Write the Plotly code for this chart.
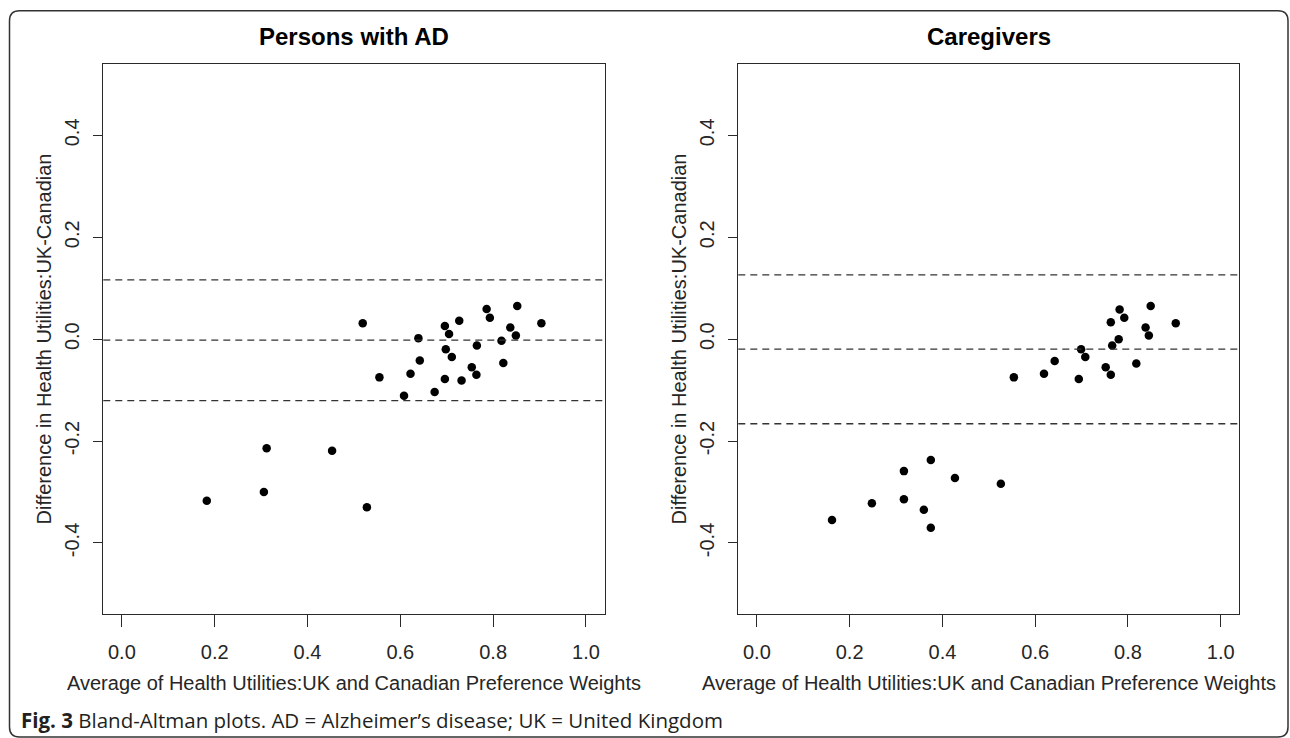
import plotly.graph_objects as go

W, H = 1290, 738

# ---- data ----
panel_titles = ["Persons with AD", "Caregivers"]
x_title = "Average of Health Utilities:UK and Canadian Preference Weights"
y_title = "Difference in Health Utilities:UK-Canadian"
caption_bold = "Fig. 3"
caption_text = " Bland-Altman plots. AD = Alzheimer\u2019s disease; UK = United Kingdom"

x_ticks = [0.0, 0.2, 0.4, 0.6, 0.8, 1.0]
x_tick_labels = ["0.0", "0.2", "0.4", "0.6", "0.8", "1.0"]
y_ticks = [-0.4, -0.2, 0.0, 0.2, 0.4]
y_tick_labels = ["-0.4", "-0.2", "0.0", "0.2", "0.4"]

ad_avg = [0.519, 0.555, 0.608, 0.622, 0.639, 0.642, 0.674, 0.696, 0.705, 0.698,
          0.711, 0.696, 0.727, 0.732, 0.754, 0.764, 0.765, 0.786, 0.793, 0.818,
          0.822, 0.837, 0.849, 0.852, 0.904, 0.312, 0.453, 0.306, 0.183, 0.528]
ad_diff = [0.031, -0.075, -0.111, -0.068, 0.002, -0.042, -0.1035, 0.026, 0.010, -0.020,
           -0.035, -0.078, 0.036, -0.081, -0.055, -0.070, -0.0125, 0.059, 0.042, -0.003,
           -0.047, 0.023, 0.007, 0.065, 0.031, -0.214, -0.219, -0.300, -0.317, -0.330]
ad_limits = [0.1165, -0.002, -0.1206]   # upper LoA, mean, lower LoA

cg_avg = [0.554, 0.619, 0.642, 0.694, 0.699, 0.708, 0.752, 0.763, 0.763, 0.766,
          0.780, 0.782, 0.792, 0.818, 0.838, 0.845, 0.849, 0.903, 0.162, 0.248,
          0.317, 0.317, 0.375, 0.360, 0.375, 0.427, 0.526]
cg_diff = [-0.075, -0.068, -0.043, -0.078, -0.020, -0.035, -0.055, -0.070, 0.033, -0.0125,
           0.000, 0.058, 0.042, -0.048, 0.023, 0.007, 0.065, 0.031, -0.355, -0.322,
           -0.259, -0.314, -0.237, -0.335, -0.370, -0.2725, -0.284]
cg_limits = [0.126, -0.0196, -0.166]

x_range = [-0.04, 1.04]
y_range = [-0.54, 0.54]

# ---- layout geometry (pixels) ----
box_left = [103.3, 738.3]
box_right = [604.5, 1239.3]
box_top, box_bottom = 64.0, 614.3

def px(x):
    return x / W

def py(y):
    return 1 - y / H

AX = "Liberation Sans, Arial, sans-serif"
TXT = "#262626"

fig = go.Figure()

series = [(ad_avg, ad_diff, ad_limits), (cg_avg, cg_diff, cg_limits)]
for i, (xs, ys, lims) in enumerate(series):
    sfx = "" if i == 0 else "2"
    fig.add_trace(go.Scatter(
        x=xs, y=ys, mode="markers", xaxis="x" + sfx, yaxis="y" + sfx,
        marker=dict(color="black", size=8.5, line=dict(width=0)),
        showlegend=False, hoverinfo="x+y"))
    for v in lims:
        fig.add_shape(type="line", xref="x%s domain" % sfx, yref="y" + sfx,
                      x0=0, x1=1, y0=v, y1=v,
                      line=dict(color="#333333", width=1.3, dash="7px,5px"))

axis_common = dict(showgrid=False, zeroline=False, showline=True, mirror=True,
                   linecolor="#2a2a2a", linewidth=1.3, ticks="outside",
                   tickcolor="#2a2a2a", tickwidth=1.3,
                   tickfont=dict(family=AX, size=20, color=TXT))

layout = dict(width=W, height=H, margin=dict(l=0, r=0, t=0, b=0),
              paper_bgcolor="white", plot_bgcolor="white")

for i in range(2):
    sfx = "" if i == 0 else "2"
    xa = dict(axis_common, domain=[px(box_left[i]), px(box_right[i])], range=x_range,
              tickvals=x_ticks, ticktext=x_tick_labels, ticklen=12,
              ticklabelstandoff=8, anchor="y" + sfx)
    ya = dict(axis_common, domain=[py(box_bottom), py(box_top)], range=y_range,
              tickvals=y_ticks, ticktext=y_tick_labels, ticklen=9, tickangle=-90,
              ticklabelstandoff=6, anchor="x" + sfx)
    layout["xaxis" + sfx] = xa
    layout["yaxis" + sfx] = ya

fig.update_layout(**layout)

ann = []
for i in range(2):
    cx = px((box_left[i] + box_right[i]) / 2)
    ann.append(dict(text="<b>%s</b>" % panel_titles[i], x=cx, y=py(36.7),
                    xref="paper", yref="paper", showarrow=False,
                    xanchor="center", yanchor="middle",
                    font=dict(family=AX, size=24, color="black")))
    ann.append(dict(text=x_title, x=cx, y=py(683.3), xref="paper", yref="paper",
                    showarrow=False, xanchor="center", yanchor="middle",
                    font=dict(family=AX, size=20, color=TXT)))
    ann.append(dict(text=y_title, x=px(box_left[i] - 59), y=py((box_top + box_bottom) / 2),
                    xref="paper", yref="paper", showarrow=False, textangle=-90,
                    xanchor="center", yanchor="middle",
                    font=dict(family=AX, size=20, color=TXT)))

ann.append(dict(text="<b>%s</b>%s" % (caption_bold, caption_text), x=px(19), y=py(720),
                xref="paper", yref="paper", showarrow=False,
                xanchor="left", yanchor="middle",
                font=dict(family="Open Sans, sans-serif", size=20.5, color="#231f20")))
fig.update_layout(annotations=ann)

# rounded outer border
L, T, R, B, r = 9.5, 10.7, 1288.0, 737.0, 10.0
path = ("M {a},{b} L {c},{b} Q {R},{b} {R},{d} L {R},{e} Q {R},{B} {c},{B} "
        "L {a},{B} Q {L},{B} {L},{e} L {L},{d} Q {L},{b} {a},{b} Z").format(
    a=px(L + r), b=py(T), c=px(R - r), R=px(R), d=py(T + r), e=py(B - r),
    B=py(B), L=px(L))
fig.add_shape(type="path", xref="paper", yref="paper", path=path,
              line=dict(color="#333333", width=1.5))

fig.write_html("out.html")
